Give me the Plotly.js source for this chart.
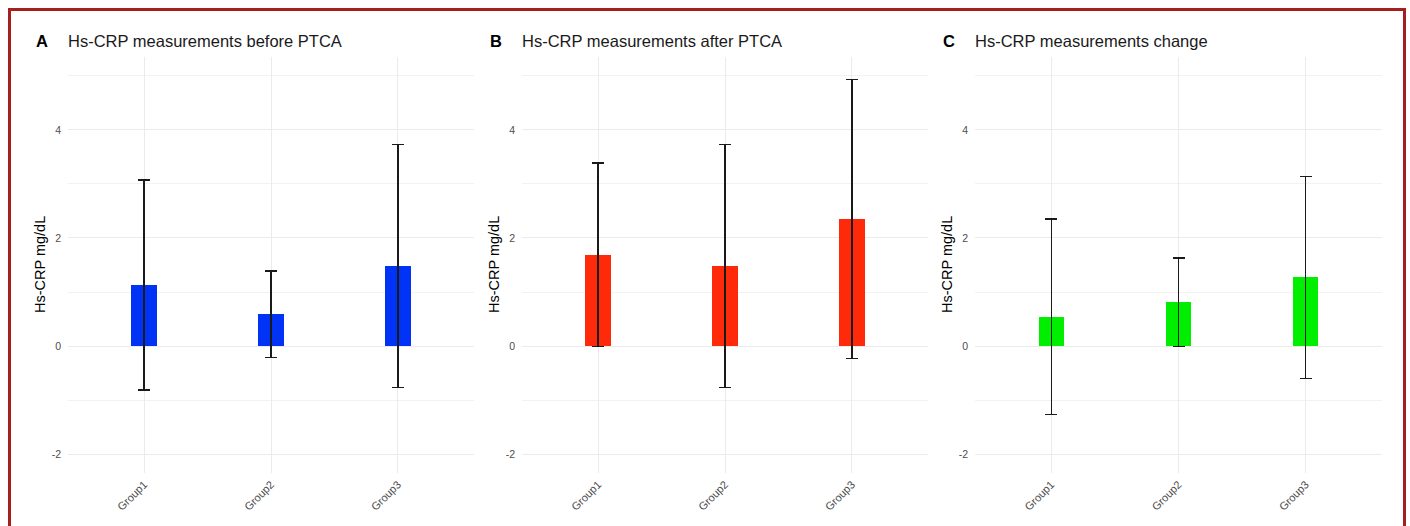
<!DOCTYPE html>
<html>
<head>
<meta charset="utf-8">
<script src="https://cdn.plot.ly/plotly-3.0.1.min.js"></script>
<style>
  html, body { margin: 0; padding: 0; background: #ffffff; overflow: hidden; }
  #frame { position: absolute; left: 8px; top: 8px; width: 1398px; height: 540px; border: 3px solid #a3201f; box-sizing: border-box; pointer-events: none; z-index: 10; }
  #chart { position: absolute; left: 0; top: 0; width: 1410px; height: 526px; }
</style>
</head>
<body>
<div id="chart"></div>
<div id="frame"></div>
<script>
// ---- data ----
const groups = ["Group1", "Group2", "Group3"];
const panelLetters = ["A", "B", "C"];
const panelTitles = ["Hs-CRP measurements before PTCA", "Hs-CRP measurements after PTCA", "Hs-CRP measurements change"];
const beforeMean = [1.13, 0.59, 1.48];
const beforeSD = [1.94, 0.80, 2.25];
const afterMean = [1.69, 1.48, 2.35];
const afterSD = [1.70, 2.25, 2.58];
const changeMean = [0.54, 0.81, 1.27];
const changeSD = [1.81, 0.82, 1.87];
const yTickVals = [-2, 0, 2, 4];
const yTitle = "Hs-CRP mg/dL";

// ---- styling ----
const colors = ["#0033f5", "#ff2a0a", "#00ee00"];
const W = 1410, H = 526;
const xDomPx = [[68, 474], [522, 928], [975, 1382]];
const yDom = [1 - 473 / H, 1 - 57 / H];
const font = "Liberation Sans, Arial, Helvetica, sans-serif";

const means = [beforeMean, afterMean, changeMean];
const sds = [beforeSD, afterSD, changeSD];

const data = [];
const layout = {
  width: W, height: H,
  margin: {l: 0, r: 0, t: 0, b: 0},
  paper_bgcolor: "#ffffff",
  plot_bgcolor: "#ffffff",
  showlegend: false,
  font: {family: font},
  annotations: [],
  bargap: 0
};

for (let i = 0; i < 3; i++) {
  const sfx = i === 0 ? "" : String(i + 1);
  data.push({
    type: "bar",
    x: groups,
    y: means[i],
    width: 0.2,
    marker: {color: colors[i], line: {width: 0}},
    error_y: {type: "data", array: sds[i], visible: true, color: "#1a1a1a", thickness: 1.5, width: 6},
    xaxis: "x" + sfx,
    yaxis: "y" + sfx,
    hoverinfo: "skip"
  });
  layout["xaxis" + sfx] = {
    domain: [xDomPx[i][0] / W, xDomPx[i][1] / W],
    anchor: "y" + sfx,
    type: "category",
    range: [-0.6, 2.6],
    showgrid: true, gridcolor: "#ebebeb", gridwidth: 1,
    zeroline: false, showline: false, ticks: "",
    tickangle: -45,
    ticklabelstandoff: 2,
    tickfont: {size: 11, color: "#4d4d4d", family: font},
    fixedrange: true
  };
  layout["yaxis" + sfx] = {
    domain: yDom,
    anchor: "x" + sfx,
    range: [-2.35, 5.35],
    tickvals: yTickVals,
    ticktext: yTickVals.map(String),
    showgrid: true, gridcolor: "#ebebeb", gridwidth: 1,
    minor: {tickvals: [-1, 1, 3, 5], showgrid: true, gridcolor: "#f2f2f2", gridwidth: 1, ticks: ""},
    zeroline: false, showline: false, ticks: "",
    ticklabelstandoff: 6,
    tickfont: {size: 10.5, color: "#4d4d4d", family: font},
    fixedrange: true
  };
  // panel letter
  layout.annotations.push({
    xref: "paper", yref: "paper",
    x: (xDomPx[i][0] - 34) / W, y: 1 - 41 / H,
    xanchor: "left", yanchor: "middle",
    text: "<b>" + panelLetters[i] + "</b>",
    showarrow: false,
    font: {size: 16.5, color: "#000000", family: font}
  });
  // panel title
  layout.annotations.push({
    xref: "paper", yref: "paper",
    x: (xDomPx[i][0] - 2) / W, y: 1 - 41 / H,
    xanchor: "left", yanchor: "middle",
    text: panelTitles[i],
    showarrow: false,
    font: {size: 16.5, color: "#1a1a1a", family: font}
  });
  // y-axis title
  layout.annotations.push({
    xref: "paper", yref: "paper",
    x: (xDomPx[i][0] - 28) / W, y: 1 - 265 / H,
    xanchor: "center", yanchor: "middle",
    textangle: -90,
    text: yTitle,
    showarrow: false,
    font: {size: 14.5, color: "#000000", family: font}
  });
}

Plotly.newPlot("chart", data, layout, {displayModeBar: false, staticPlot: true});
</script>
</body>
</html>
